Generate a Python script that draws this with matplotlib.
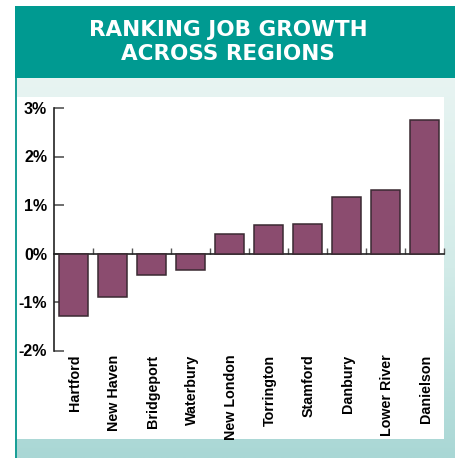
import matplotlib
matplotlib.use("Agg")
import matplotlib.pyplot as plt
import numpy as np
from matplotlib.patches import Rectangle
from matplotlib.colors import LinearSegmentedColormap

regions = ["Hartford", "New Haven", "Bridgeport", "Waterbury", "New London",
           "Torrington", "Stamford", "Danbury", "Lower River", "Danielson"]
growth = [-1.28, -0.89, -0.44, -0.35, 0.40, 0.58, 0.60, 1.16, 1.30, 2.76]
yticks = [-2, -1, 0, 1, 2, 3]
ytick_labels = ["-2%", "-1%", "0%", "1%", "2%", "3%"]
title_lines = ["RANKING JOB GROWTH", "ACROSS REGIONS"]

W, H = 455, 458
fig = plt.figure(figsize=(W / 100, H / 100), dpi=100)
fig.patch.set_facecolor("white")

# background decoration (pixel coordinates)
bg = fig.add_axes([0, 0, 1, 1], zorder=-5)
cmap = LinearSegmentedColormap.from_list("g", ["#e8f4f2", "#d2ebe8", "#a9d7d5"])
grad = np.linspace(0, 1, 256).reshape(-1, 1)
bg.imshow(grad, cmap=cmap, extent=(15, W, H, 78), aspect="auto", zorder=0)
bg.add_patch(Rectangle((15, 6), W - 15, 72, facecolor="#009a91", edgecolor="none", zorder=1))
bg.add_patch(Rectangle((15, 78), 2.2, H - 78, facecolor="#1a9f97", edgecolor="none", zorder=1))
bg.add_patch(Rectangle((17.2, 97), 444 - 17.2, 439 - 97, facecolor="white", edgecolor="none", zorder=1))
bg.set_xlim(0, W)
bg.set_ylim(H, 0)
bg.axis("off")
for k, line in enumerate(title_lines):
    bg.text(228, 30.5 + 24 * k, line, color="white", fontsize=15.5, fontweight="bold",
            family="DejaVu Sans", ha="center", va="center", zorder=2)

# main chart
ax = fig.add_axes([54 / W, 1 - 350.5 / H, (444 - 54) / W, (350.5 - 108) / H])
ax.patch.set_alpha(0)
x = np.arange(len(regions))
ax.bar(x, growth, width=0.73, color="#8b4c6f", edgecolor="#3a2a32", linewidth=1.1, zorder=3)
ax.set_xlim(-0.5, len(regions) - 0.5)
ax.set_ylim(-2, 3)

for s in ["top", "right"]:
    ax.spines[s].set_visible(False)
ax.spines["bottom"].set_position(("data", 0))
ax.spines["left"].set_color("#222222")
ax.spines["bottom"].set_color("#222222")
ax.spines["left"].set_linewidth(1.2)
ax.spines["bottom"].set_linewidth(1.2)

ax.set_yticks(yticks)
ax.set_yticklabels(ytick_labels, fontsize=11.5, fontweight="bold", family="Liberation Sans")
ax.tick_params(axis="y", direction="in", length=7, width=1.2, color="#555555", pad=5)

ax.set_xticks(np.arange(len(regions)) + 0.5)
ax.set_xticklabels([])
ax.tick_params(axis="x", direction="in", length=4, width=1.0, color="#555555")

for i, name in enumerate(regions):
    ax.annotate(name, xy=(i, 0), xycoords=("data", "axes fraction"),
                xytext=(1, -3), textcoords="offset points", rotation=90,
                ha="center", va="top", fontsize=10.3, fontweight="bold",
                family="Liberation Sans")

fig.savefig("out.png", dpi=100)
